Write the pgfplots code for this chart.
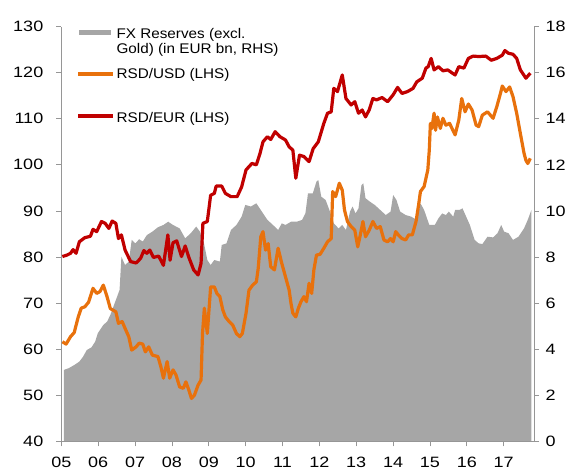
\documentclass[border=0pt]{standalone}
\usepackage{fontspec}
\setmainfont{Liberation Sans}
\newfontfamily\tickfont[FakeStretch=1.2]{Liberation Sans}
\newfontfamily\legfont[FakeStretch=1.09]{Liberation Sans}
\usepackage{pgfplots}
\pgfplotsset{compat=1.18}
\definecolor{fxgray}{RGB}{166,166,166}
\definecolor{usdorange}{RGB}{232,113,12}
\definecolor{eurred}{RGB}{192,0,0}
\definecolor{axgray}{RGB}{150,150,150}
\pgfplotsset{
  basestyle/.style={
    scale only axis, width=472.7pt, height=414.7pt,
    xmin=2005, xmax=2017.82,
    axis line style={axgray, line width=0.8pt},
    tick style={axgray, line width=0.8pt},
    major tick length=5pt, tick align=outside,
    ticklabel style={font=\tickfont\fontsize{15}{17}\selectfont},
    /pgf/number format/assume math mode=true,
    clip=false,
  }
}
\begin{document}
\begin{tikzpicture}
\begin{axis}[basestyle,
  axis x line=none, axis y line*=right,
  ymin=0, ymax=18, ytick={0,2,...,18},
  yticklabel style={xshift=3pt},
]
\addplot[fill=fxgray, draw=none] coordinates {
(2005.07,3.10) (2005.20,3.17) (2005.35,3.31) (2005.49,3.46) (2005.59,3.67)
(2005.69,3.96) (2005.82,4.08) (2005.92,4.33) (2005.99,4.69) (2006.14,5.05)
(2006.24,5.19) (2006.33,5.48) (2006.43,5.92) (2006.53,6.35) (2006.58,6.57)
(2006.63,8.01) (2006.73,7.65) (2006.83,7.80) (2006.91,8.74) (2007.01,8.59)
(2007.11,8.77) (2007.21,8.67) (2007.32,8.95) (2007.47,9.10) (2007.62,9.29)
(2007.77,9.39) (2007.90,9.53) (2008.03,9.39) (2008.21,9.24) (2008.36,8.81)
(2008.51,9.03) (2008.66,9.32) (2008.76,9.10) (2008.86,8.67) (2008.96,7.87)
(2009.05,7.65) (2009.15,7.87) (2009.30,7.80) (2009.35,8.52) (2009.48,8.59)
(2009.60,9.17) (2009.75,9.39) (2009.89,9.75) (2009.99,10.26) (2010.14,10.19)
(2010.29,10.33) (2010.44,9.97) (2010.59,9.61) (2010.74,9.39) (2010.88,9.17)
(2010.98,9.46) (2011.08,9.39) (2011.23,9.53) (2011.38,9.53) (2011.53,9.61)
(2011.62,9.89) (2011.69,10.76) (2011.82,10.76) (2011.92,11.27) (2011.97,11.34)
(2012.05,10.62) (2012.17,10.47) (2012.27,10.04) (2012.39,9.46) (2012.52,9.24)
(2012.62,9.39) (2012.72,9.17) (2012.83,9.97) (2012.90,10.19) (2012.98,9.89)
(2013.06,10.11) (2013.14,11.12) (2013.19,11.20) (2013.25,10.55) (2013.37,10.40)
(2013.50,10.26) (2013.65,10.04) (2013.80,9.82) (2013.93,9.97) (2014.00,10.69)
(2014.09,10.47) (2014.19,9.97) (2014.34,9.82) (2014.49,9.75) (2014.64,9.61)
(2014.74,10.33) (2014.84,10.04) (2014.98,9.39) (2015.13,9.39) (2015.23,9.68)
(2015.33,9.89) (2015.43,9.82) (2015.51,9.97) (2015.63,9.75) (2015.68,10.04)
(2015.80,10.04) (2015.88,10.11) (2015.98,9.75) (2016.08,9.39) (2016.21,8.74)
(2016.32,8.59) (2016.42,8.56) (2016.56,8.88) (2016.71,8.85) (2016.83,9.03)
(2016.93,9.39) (2017.01,9.10) (2017.13,9.03) (2017.25,8.74) (2017.40,8.88)
(2017.55,9.24) (2017.65,9.61) (2017.75,10.04)
} \closedcycle;
\end{axis}
\begin{axis}[basestyle,
  axis x line*=bottom, axis y line*=left,
  ymin=40, ymax=130, ytick={40,50,...,130},
  yticklabel style={xshift=-9.5pt},
  xtick={2005,...,2017},
  xticklabels={05,06,07,08,09,10,11,12,13,14,15,16,17},
  xticklabel style={yshift=-7pt},
]
\addplot[usdorange, line width=3.2pt, line join=round] coordinates {
(2005.03,61.6) (2005.13,61.1) (2005.25,62.7) (2005.35,63.6) (2005.46,67.0)
(2005.54,68.9) (2005.64,69.2) (2005.74,70.2) (2005.86,73.2) (2005.96,72.1)
(2006.05,72.5) (2006.14,73.9) (2006.24,71.4) (2006.33,68.8) (2006.48,68.1)
(2006.55,65.6) (2006.65,66.0) (2006.73,64.5) (2006.83,62.7) (2006.91,59.8)
(2007.03,60.5) (2007.11,61.3) (2007.21,61.1) (2007.28,59.4) (2007.37,60.5)
(2007.47,58.7) (2007.62,58.4) (2007.70,56.2) (2007.77,53.7) (2007.87,57.3)
(2007.94,53.7) (2008.03,55.5) (2008.11,54.4) (2008.21,51.8) (2008.31,51.5)
(2008.38,52.9) (2008.46,51.1) (2008.53,49.3) (2008.61,50.0) (2008.71,52.2)
(2008.79,53.3) (2008.83,63.4) (2008.88,68.9) (2008.96,63.4) (2009.05,73.5)
(2009.15,73.5) (2009.22,72.1) (2009.30,71.4) (2009.38,68.5) (2009.45,67.0)
(2009.55,66.0) (2009.65,65.2) (2009.75,63.4) (2009.84,62.7) (2009.91,63.4)
(2010.01,67.8) (2010.09,72.8) (2010.19,73.9) (2010.29,74.6) (2010.34,77.5)
(2010.41,84.4) (2010.47,85.5) (2010.54,81.5) (2010.61,82.9) (2010.68,77.9)
(2010.78,77.2) (2010.88,81.9) (2010.98,78.6) (2011.08,75.7) (2011.18,72.8)
(2011.23,69.9) (2011.28,67.8) (2011.36,67.0) (2011.43,68.9) (2011.50,70.3)
(2011.58,71.4) (2011.65,70.3) (2011.72,74.3) (2011.79,72.1) (2011.85,77.2)
(2011.92,80.4) (2012.02,80.6) (2012.12,81.9) (2012.22,83.3) (2012.32,84.0)
(2012.36,94.2) (2012.44,93.1) (2012.54,96.0) (2012.62,94.5) (2012.68,90.2)
(2012.76,87.7) (2012.86,86.6) (2012.96,85.8) (2013.04,82.2) (2013.11,84.8)
(2013.18,87.7) (2013.25,84.4) (2013.35,85.8) (2013.45,87.7) (2013.55,86.2)
(2013.65,86.6) (2013.75,83.7) (2013.85,83.3) (2013.93,84.0) (2014.00,83.3)
(2014.07,85.5) (2014.14,84.8) (2014.24,84.0) (2014.34,83.7) (2014.42,84.8)
(2014.52,84.8) (2014.62,87.7) (2014.69,91.3) (2014.74,94.2) (2014.84,95.3)
(2014.94,98.9) (2014.98,103.2) (2015.01,109.0) (2015.05,107.9) (2015.11,111.2)
(2015.15,107.5) (2015.20,110.4) (2015.28,107.9) (2015.35,110.1) (2015.43,108.6)
(2015.53,109.0) (2015.68,106.5) (2015.78,109.7) (2015.86,114.4) (2015.95,111.5)
(2016.04,113.2) (2016.14,111.9) (2016.25,108.6) (2016.32,108.3) (2016.42,110.8)
(2016.56,111.5) (2016.71,110.1) (2016.81,112.6) (2016.91,115.5) (2016.96,117.1)
(2017.06,115.9) (2017.16,116.9) (2017.25,114.8) (2017.35,111.2) (2017.45,106.8)
(2017.55,102.5) (2017.60,101.0) (2017.65,100.3) (2017.72,101.4)
};
\addplot[eurred, line width=3.2pt, line join=round] coordinates {
(2005.03,80.1) (2005.15,80.4) (2005.25,80.8) (2005.32,81.6) (2005.40,80.8)
(2005.49,83.3) (2005.64,84.2) (2005.79,84.5) (2005.86,86.0) (2005.96,85.5)
(2006.09,87.7) (2006.19,87.3) (2006.29,86.2) (2006.38,87.8) (2006.48,87.3)
(2006.55,84.0) (2006.63,84.8) (2006.73,81.5) (2006.88,79.0) (2007.03,78.7)
(2007.15,79.7) (2007.24,81.4) (2007.32,80.8) (2007.40,81.5) (2007.50,79.9)
(2007.64,80.2) (2007.77,78.2) (2007.89,84.8) (2007.95,79.3) (2008.03,83.1)
(2008.13,83.5) (2008.26,80.1) (2008.36,82.4) (2008.46,79.9) (2008.59,77.2)
(2008.71,76.1) (2008.79,78.6) (2008.84,87.3) (2008.96,87.7) (2009.05,93.4)
(2009.15,93.8) (2009.20,95.4) (2009.35,95.4) (2009.45,93.8) (2009.60,93.1)
(2009.77,93.1) (2009.89,95.2) (2010.01,98.9) (2010.17,100.3) (2010.29,100.0)
(2010.39,102.5) (2010.47,105.0) (2010.59,106.1) (2010.68,105.5) (2010.80,107.2)
(2010.93,106.1) (2011.08,105.4) (2011.18,103.9) (2011.28,103.2) (2011.36,97.1)
(2011.46,102.1) (2011.58,101.8) (2011.72,100.7) (2011.83,103.5) (2011.97,105.0)
(2012.12,109.0) (2012.22,111.2) (2012.32,111.5) (2012.39,116.6) (2012.49,115.9)
(2012.62,119.5) (2012.72,114.4) (2012.86,113.0) (2012.96,113.7) (2013.06,111.2)
(2013.16,111.9) (2013.25,110.4) (2013.35,111.9) (2013.45,114.4) (2013.55,114.1)
(2013.70,114.6) (2013.85,113.7) (2014.00,115.2) (2014.12,116.8) (2014.24,115.5)
(2014.39,115.9) (2014.54,116.6) (2014.64,118.0) (2014.79,118.8) (2014.89,121.0)
(2014.95,121.3) (2015.03,123.1) (2015.11,120.6) (2015.23,121.3) (2015.35,120.4)
(2015.48,120.6) (2015.68,119.5) (2015.78,121.3) (2015.92,121.0) (2016.04,123.1)
(2016.17,123.6) (2016.32,123.5) (2016.51,123.6) (2016.66,122.7) (2016.81,123.1)
(2016.96,123.8) (2017.03,124.8) (2017.13,124.2) (2017.25,124.0) (2017.35,123.1)
(2017.45,120.6) (2017.60,118.8) (2017.72,119.9)
};
% legend
\draw[fxgray, line width=5pt] (rel axis cs:0.038,0.986) -- (rel axis cs:0.105,0.986);
\node[anchor=base west, inner sep=0pt, font=\legfont\fontsize{14}{16}\selectfont] at (rel axis cs:0.1166,0.9718) {FX Reserves (excl.};
\node[anchor=base west, inner sep=0pt, font=\legfont\fontsize{14}{16}\selectfont] at (rel axis cs:0.1166,0.9356) {Gold) (in EUR bn, RHS)};
\draw[usdorange, line width=3.5pt] (rel axis cs:0.036,0.8852) -- (rel axis cs:0.110,0.8852);
\node[anchor=base west, inner sep=0pt, font=\legfont\fontsize{14}{16}\selectfont] at (rel axis cs:0.1166,0.8749) {RSD/USD (LHS)};
\draw[eurred, line width=3.5pt] (rel axis cs:0.036,0.7842) -- (rel axis cs:0.110,0.7842);
\node[anchor=base west, inner sep=0pt, font=\legfont\fontsize{14}{16}\selectfont] at (rel axis cs:0.1166,0.7683) {RSD/EUR (LHS)};
\end{axis}
\pgfresetboundingbox
\path[use as bounding box] (-61.3pt,-28.7pt) rectangle (515.7pt,441.3pt);
\end{tikzpicture}
\end{document}
